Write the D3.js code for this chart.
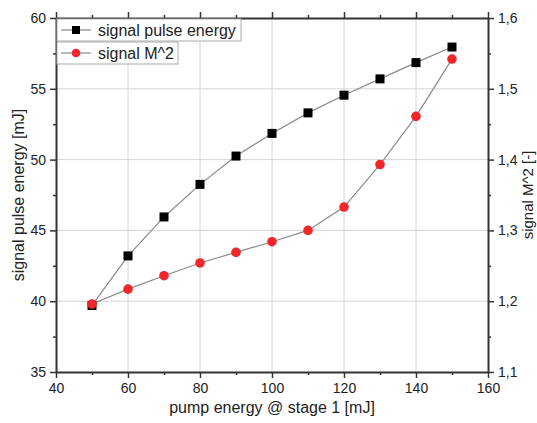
<!DOCTYPE html>
<html>
<head>
<meta charset="utf-8">
<script src="https://cdn.jsdelivr.net/npm/d3@7"></script>
<style>
  body { margin: 0; background: #fff; }
  svg text { font-family: "Liberation Sans", Arial, sans-serif; fill: #222; }
</style>
</head>
<body>
<svg id="chart" width="537" height="423"></svg>
<script>
// data
let pumpEnergy = [50, 60, 70, 80, 90, 100, 110, 120, 130, 140, 150]
let pulseEnergy = [39.7, 43.2, 45.95, 48.25, 50.25, 51.85, 53.3, 54.55, 55.7, 56.85, 57.95]
let m2 = [1.196, 1.217, 1.236, 1.254, 1.269, 1.284, 1.300, 1.333, 1.393, 1.461, 1.542]
let xTicks = [40, 60, 80, 100, 120, 140, 160]
let yTicks = [35, 40, 45, 50, 55, 60]
let y2Ticks = [1.1, 1.2, 1.3, 1.4, 1.5, 1.6]
let legendNames = ["signal pulse energy", "signal M^2"]

let svg = d3.select("#chart")
let pLeft = 56, pRight = 488, pTop = 18, pBottom = 372

let x = d3.scaleLinear().domain([40, 160]).range([pLeft, pRight])
let y = d3.scaleLinear().domain([35, 60]).range([pBottom, pTop])
let y2 = d3.scaleLinear().domain([1.1, 1.6]).range([pBottom, pTop])

let comma = (v) => d3.format(".1f")(v).replace(".", ",")

//grid
svg.append("g")
   .selectAll("line")
   .data(xTicks.slice(1, -1))
   .enter()
   .append("line")
   .attr("x1", (d) => x(d)).attr("x2", (d) => x(d))
   .attr("y1", pTop).attr("y2", pBottom)
   .attr("stroke", "#d4d4d4").attr("stroke-width", 1)

svg.append("g")
   .selectAll("line")
   .data(yTicks.slice(1, -1))
   .enter()
   .append("line")
   .attr("x1", pLeft).attr("x2", pRight)
   .attr("y1", (d) => y(d)).attr("y2", (d) => y(d))
   .attr("stroke", "#d4d4d4").attr("stroke-width", 1)

//axes
let styleAxis = (g) => {
    g.selectAll("path").attr("stroke", "#333").attr("stroke-width", 2)
    g.selectAll("line").attr("stroke", "#333").attr("stroke-width", 1.5)
    g.selectAll("text").style("font-size", "14px").attr("fill", "#222")
}

let xMinor = d3.range(50, 160, 20)
let yMinor = d3.range(37.5, 60, 5)
let y2Minor = d3.range(1.15, 1.6, 0.1)

svg.append("g").attr("transform", `translate(0, ${pBottom})`)
   .call(d3.axisBottom(x).tickValues(xTicks).tickSize(6).tickPadding(5).tickSizeOuter(0))
   .call(styleAxis)
svg.append("g").attr("transform", `translate(0, ${pBottom})`)
   .call(d3.axisBottom(x).tickValues(xMinor).tickSize(3).tickFormat("").tickSizeOuter(0))
   .call(styleAxis).select("path").remove()

svg.append("g").attr("transform", `translate(0, ${pTop})`)
   .call(d3.axisTop(x).tickValues(xTicks).tickSize(6).tickFormat("").tickSizeOuter(0))
   .call(styleAxis)
svg.append("g").attr("transform", `translate(0, ${pTop})`)
   .call(d3.axisTop(x).tickValues(xMinor).tickSize(3).tickFormat("").tickSizeOuter(0))
   .call(styleAxis).select("path").remove()

svg.append("g").attr("transform", `translate(${pLeft}, 0)`)
   .call(d3.axisLeft(y).tickValues(yTicks).tickSize(6).tickPadding(4).tickSizeOuter(0))
   .call(styleAxis)
svg.append("g").attr("transform", `translate(${pLeft}, 0)`)
   .call(d3.axisLeft(y).tickValues(yMinor).tickSize(3).tickFormat("").tickSizeOuter(0))
   .call(styleAxis).select("path").remove()

svg.append("g").attr("transform", `translate(${pRight}, 0)`)
   .call(d3.axisRight(y2).tickValues(y2Ticks).tickSize(6).tickPadding(4).tickFormat(comma).tickSizeOuter(0))
   .call(styleAxis)
svg.append("g").attr("transform", `translate(${pRight}, 0)`)
   .call(d3.axisRight(y2).tickValues(y2Minor).tickSize(3).tickFormat("").tickSizeOuter(0))
   .call(styleAxis).select("path").remove()

//axis titles
svg.append("text")
   .attr("x", (pLeft + pRight) / 2).attr("y", 413)
   .attr("text-anchor", "middle")
   .style("font-size", "16px")
   .text("pump energy @ stage 1 [mJ]")

svg.append("text")
   .attr("transform", `translate(24, ${(pTop + pBottom) / 2}) rotate(-90)`)
   .attr("text-anchor", "middle")
   .style("font-size", "16px")
   .text("signal pulse energy [mJ]")

svg.append("text")
   .attr("transform", `translate(533, ${(pTop + pBottom) / 2}) rotate(-90)`)
   .attr("text-anchor", "middle")
   .style("font-size", "15px")
   .text("signal M^2 [-]")

//lines
let energyLine = d3.line().x((d, i) => x(pumpEnergy[i])).y((d) => y(d))
let m2Line = d3.line().x((d, i) => x(pumpEnergy[i])).y((d) => y2(d))

svg.append("path").attr("d", energyLine(pulseEnergy))
   .attr("fill", "none").attr("stroke", "#8a8a8a").attr("stroke-width", 1.2)
svg.append("path").attr("d", m2Line(m2))
   .attr("fill", "none").attr("stroke", "#8a8a8a").attr("stroke-width", 1.2)

svg.append("g").selectAll("rect")
   .data(pulseEnergy)
   .enter()
   .append("rect")
   .attr("x", (d, i) => x(pumpEnergy[i]) - 4.5)
   .attr("y", (d) => y(d) - 4.5)
   .attr("width", 9).attr("height", 9)
   .attr("fill", "#000")

svg.append("g").selectAll("circle")
   .data(m2)
   .enter()
   .append("circle")
   .attr("cx", (d, i) => x(pumpEnergy[i]))
   .attr("cy", (d) => y2(d))
   .attr("r", 4.8)
   .attr("fill", "#f0262b")

//legend
let boxW = [184, 121]
let lg = svg.append("g").selectAll("g")
    .data(legendNames)
    .enter()
    .append("g")
    .attr("transform", (d, i) => `translate(${pLeft + 1}, ${pTop + 1 + i * 23})`)

lg.append("rect")
  .attr("width", (d, i) => boxW[i]).attr("height", 22)
  .attr("fill", "#fff").attr("stroke", "#aaa").attr("stroke-width", 1)
lg.append("line")
  .attr("x1", 4).attr("x2", 34).attr("y1", 11).attr("y2", 11)
  .attr("stroke", "#8a8a8a").attr("stroke-width", 1.2)
lg.filter((d, i) => i === 0).append("rect")
  .attr("x", 15).attr("y", 7).attr("width", 8).attr("height", 8).attr("fill", "#000")
lg.filter((d, i) => i === 1).append("circle")
  .attr("cx", 19).attr("cy", 11).attr("r", 4.3).attr("fill", "#f0262b")
lg.append("text")
  .text((d) => d)
  .attr("x", 41).attr("y", 16.5)
  .style("font-size", "16px")
</script>
</body>
</html>
